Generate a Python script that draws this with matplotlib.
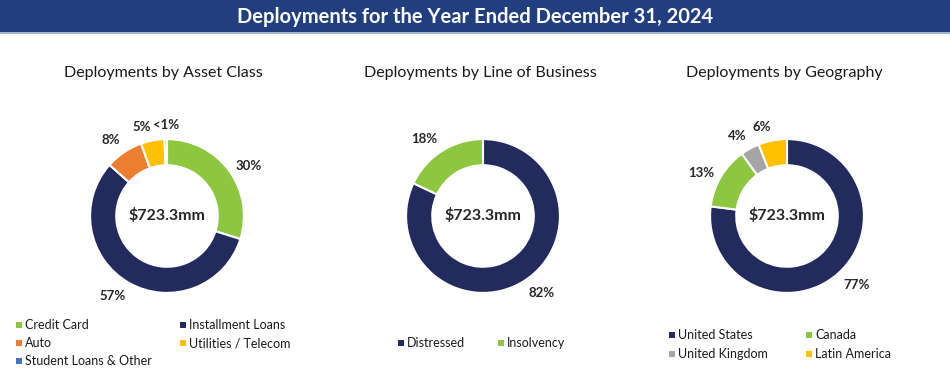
import matplotlib
matplotlib.use("Agg")
import matplotlib.pyplot as plt
from matplotlib.patches import Rectangle
import numpy as np

plt.rcParams['font.family'] = ['Lato', 'DejaVu Sans']

# ---- data ----
title = "Deployments for the Year Ended December 31, 2024"
center_text = "$723.3mm"

asset_title = "Deployments by Asset Class"
asset_labels = ["Credit Card", "Installment Loans", "Auto", "Utilities / Telecom", "Student Loans & Other"]
asset_values = [30, 57, 8, 5, 0.5]
asset_pct = ["30%", "57%", "8%", "5%", "<1%"]
asset_colors = ["#8DC63F", "#232A5E", "#ED7D31", "#FFC000", "#4472C4"]

lob_title = "Deployments by Line of Business"
lob_labels = ["Distressed", "Insolvency"]
lob_values = [82, 18]
lob_pct = ["82%", "18%"]
lob_colors = ["#232A5E", "#8DC63F"]

geo_title = "Deployments by Geography"
geo_labels = ["United States", "Canada", "United Kingdom", "Latin America"]
geo_values = [77, 13, 4, 6]
geo_pct = ["77%", "13%", "4%", "6%"]
geo_colors = ["#232A5E", "#8DC63F", "#A5A5A5", "#FFC000"]

W, H = 950, 369
fig = plt.figure(figsize=(W / 100, H / 100), dpi=100)
fig.patch.set_facecolor("white")

def fx(px):
    return px / W

def fy(py):
    return 1 - py / H

# title bar
fig.patches.append(Rectangle((0, fy(32)), 1, 32 / H, transform=fig.transFigure,
                             facecolor="#213E7F", edgecolor="none", zorder=0))
fig.patches.append(Rectangle((0, fy(34)), 1, 2 / H, transform=fig.transFigure,
                             facecolor="#9FB3CF", edgecolor="none", zorder=0))
fig.text(0.5, fy(17), title, color="white", fontsize=14.5, fontweight="bold",
         ha="center", va="center")

def donut(cx, cy, values, colors, pcts, subtitle, sub_x):
    size = 200
    ax = fig.add_axes([fx(cx - size / 2), fy(cy + size / 2), size / W, size / H])
    wedges, _ = ax.pie(values, colors=colors, startangle=90, counterclock=False,
                       radius=1.0, wedgeprops=dict(width=0.34, edgecolor="white", linewidth=1.5))
    ax.set_xlim(-1.3, 1.3)
    ax.set_ylim(-1.3, 1.3)
    ax.set_aspect("equal")
    ax.axis("off")
    for w, p in zip(wedges, pcts):
        ang = np.deg2rad((w.theta1 + w.theta2) / 2)
        c, s = np.cos(ang), np.sin(ang)
        r = 1.1
        if abs(c) < 0.05:
            ha = "center"
        else:
            ha = "left" if c > 0 else "right"
        va = "bottom" if s > 0.6 else ("top" if s < -0.6 else "center")
        ax.text(r * c, r * s, p, ha=ha, va=va, fontsize=9.5, fontweight="bold", color="#262626")
    ax.text(0, 0, center_text, ha="center", va="center", fontsize=11.5,
            fontweight="bold", color="#262626")
    fig.text(fx(sub_x), fy(73), subtitle, ha="center", va="center", fontsize=11.5, color="#1a1a1a")

def legend(labels, colors, col_x, row_y, ncol):
    for i, (lab, col) in enumerate(zip(labels, colors)):
        x = col_x[i % ncol]
        y = row_y[i // ncol]
        sq = 6
        fig.patches.append(Rectangle((fx(x - sq / 2), fy(y + sq / 2)), sq / W, sq / H,
                                     transform=fig.transFigure, facecolor=col,
                                     edgecolor="none"))
        fig.text(fx(x + 6), fy(y), lab, ha="left", va="center", fontsize=9, color="#1a1a1a")

donut(167, 216, asset_values, asset_colors, asset_pct, asset_title, 163)
donut(483, 216, lob_values, lob_colors, lob_pct, lob_title, 480)
donut(787, 216, geo_values, geo_colors, geo_pct, geo_title, 784)

legend(asset_labels, asset_colors, [19, 183], [325, 343, 361], 2)
legend(lob_labels, lob_colors, [401, 501], [343], 2)
legend(geo_labels, geo_colors, [672, 809], [335, 354], 2)

fig.savefig("out.png", dpi=100, facecolor="white")
